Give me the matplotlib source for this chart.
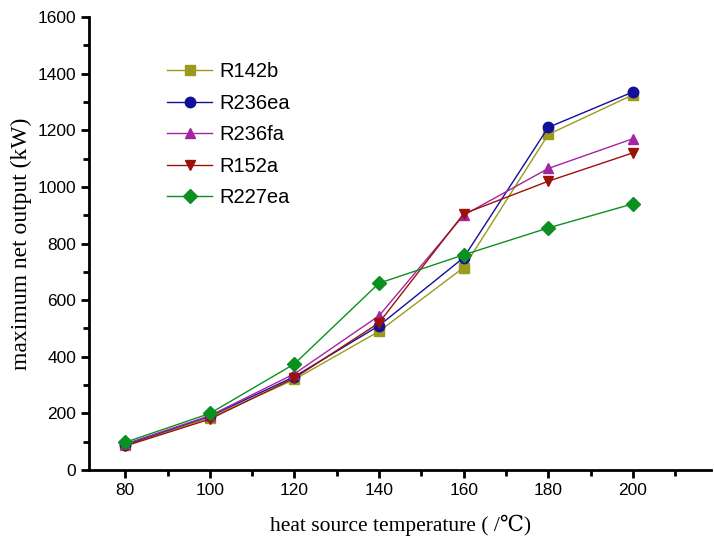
import matplotlib
matplotlib.use("Agg")
import matplotlib.pyplot as plt
from matplotlib.ticker import MultipleLocator

temps = [80, 100, 120, 140, 160, 180, 200]
r142b = [88, 185, 320, 490, 715, 1185, 1325]
r236ea = [90, 190, 330, 510, 750, 1210, 1335]
r236fa = [92, 192, 340, 545, 900, 1065, 1170]
r152a = [85, 180, 325, 520, 905, 1020, 1120]
r227ea = [98, 200, 375, 660, 760, 855, 940]

series = [
    ("R142b", r142b, "#9c9a1c", "s"),
    ("R236ea", r236ea, "#10109a", "o"),
    ("R236fa", r236fa, "#a424a4", "^"),
    ("R152a", r152a, "#9c1208", "v"),
    ("R227ea", r227ea, "#0a9020", "D"),
]

fig = plt.figure(figsize=(7.14, 5.46), dpi=100)
ax = fig.add_axes([0.125, 0.139, 0.871, 0.830])

for name, vals, col, mk in series:
    ax.plot(temps, vals, color=col, marker=mk, markersize=7.5, linewidth=1.0, label=name)

ax.set_xlim(71.5, 218.5)
ax.set_ylim(0, 1600)
ax.xaxis.set_major_locator(MultipleLocator(20))
ax.xaxis.set_minor_locator(MultipleLocator(10))
ax.yaxis.set_major_locator(MultipleLocator(200))
ax.yaxis.set_minor_locator(MultipleLocator(100))

for s in ["top", "right"]:
    ax.spines[s].set_visible(False)
for s in ["left", "bottom"]:
    ax.spines[s].set_linewidth(2)

ax.tick_params(which="major", direction="out", length=6, width=2, labelsize=12.5)
ax.tick_params(which="minor", direction="out", length=4, width=2)
for lbl in ax.get_xticklabels() + ax.get_yticklabels():
    lbl.set_family("Liberation Sans")

serif = ["Liberation Serif", "DejaVu Serif"]
ax.set_xlabel("heat source temperature ( /\u2103)", family=serif, fontsize=15.5, labelpad=12)
ax.set_ylabel("maximum net output (kW)", family=serif, fontsize=17, labelpad=4)

leg = ax.legend(loc="upper left", bbox_to_anchor=(0.096, 0.94), frameon=False,
                prop={"family": "Liberation Sans", "size": 14.5},
                handlelength=2.25, handletextpad=0.35, labelspacing=0.62)

fig.savefig("out.png", dpi=100)
